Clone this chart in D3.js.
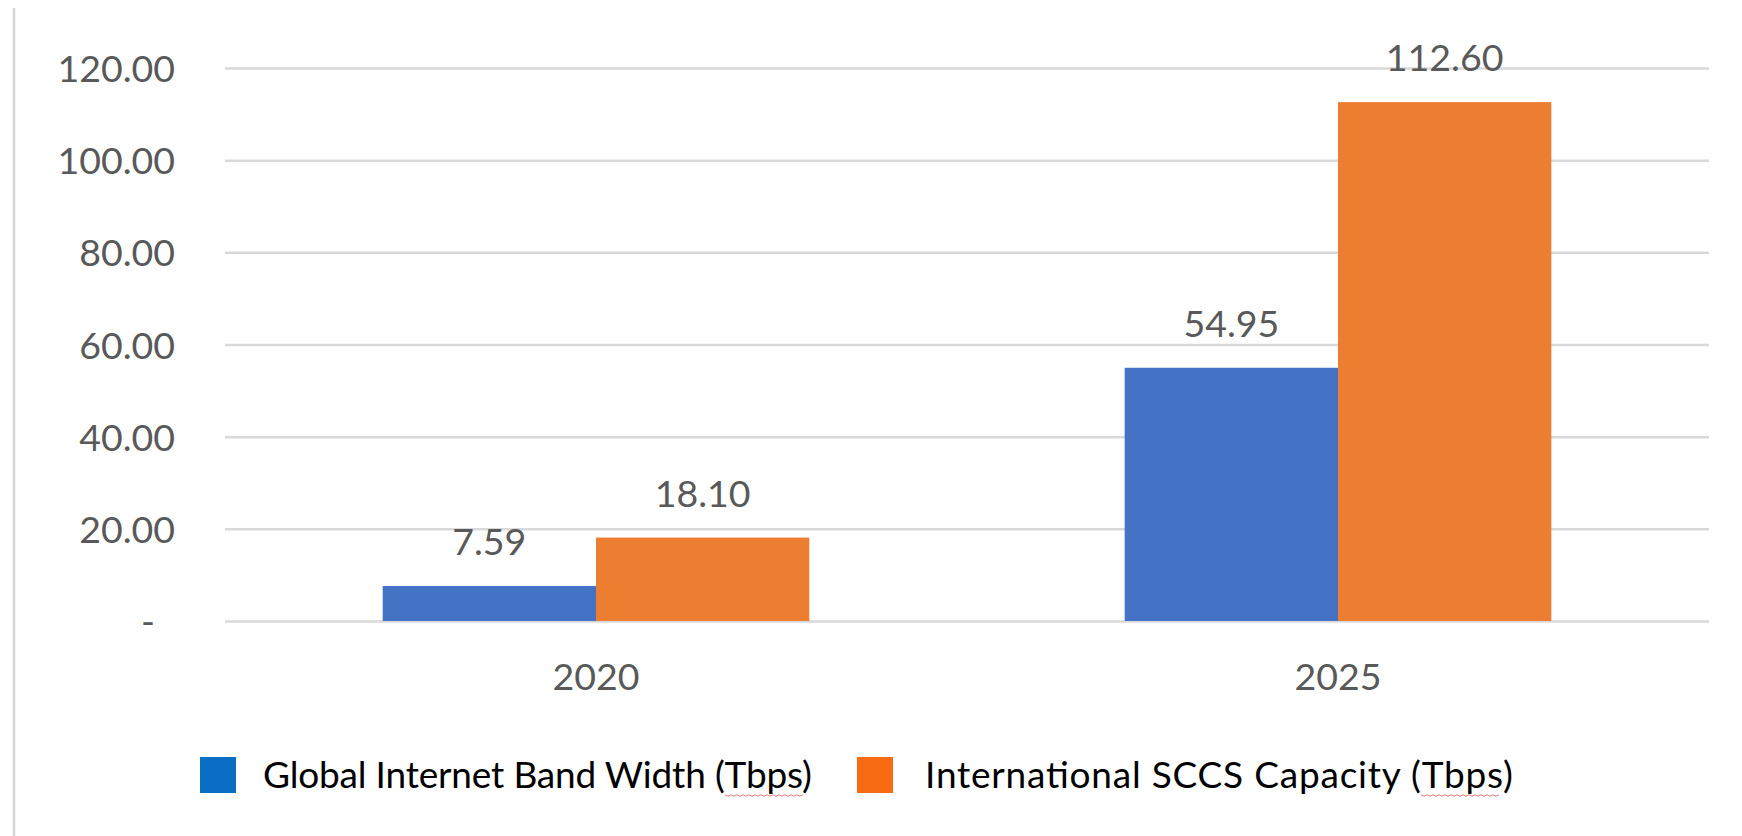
<!DOCTYPE html>
<html>
<head>
<meta charset="utf-8">
<script src="https://cdn.jsdelivr.net/npm/d3@7"></script>
<style>
  html, body { margin: 0; padding: 0; background: #ffffff; }
  svg { display: block; }
</style>
</head>
<body>
<svg id="chart" width="1742" height="836"></svg>
<script>
// ---- data ----
const categories = ["2020", "2025"];
const seriesNames = ["Global Internet Band Width (Tbps)", "International SCCS Capacity (Tbps)"];
const bandwidthValues = [7.59, 54.95];
const sccsValues = [18.10, 112.60];
const yTickValues = [0, 20, 40, 60, 80, 100, 120];
const yTickLabels = ["-", "20.00", "40.00", "60.00", "80.00", "100.00", "120.00"];

const barColors = ["#4472C4", "#ED7D31"];
const legendColors = ["#0A6EC4", "#F76B15"];

const table = categories.map((c, i) => ({
  category: c,
  values: [
    { series: seriesNames[0], value: bandwidthValues[i], idx: 0 },
    { series: seriesNames[1], value: sccsValues[i], idx: 1 }
  ]
}));

const svg = d3.select("#chart");
const W = 1742, H = 836;
const plot = { left: 225, right: 1709, top: 68, bottom: 621 };
const FONT = "Lato, 'Open Sans', sans-serif";
const LEG_FS = 37;
const legendTextWidths = [549, 588];
const legendTextOffsets = [63, 68];

// left border line
svg.append("line")
  .attr("x1", 14).attr("x2", 14).attr("y1", 8).attr("y2", H)
  .attr("stroke", "#d4d4d4").attr("stroke-width", 2.5);

const x0 = d3.scaleBand().domain(categories)
  .range([plot.left, plot.right])
  .paddingInner(0.425).paddingOuter(0.2125);
const x1 = d3.scaleBand().domain(seriesNames).range([0, x0.bandwidth()]).padding(0);
const y = d3.scaleLinear().domain([0, 120]).range([plot.bottom, plot.top]);

// gridlines
const grid = svg.append("g")
  .attr("transform", `translate(${plot.left},0)`)
  .call(d3.axisLeft(y).tickValues(yTickValues).tickSize(-(plot.right - plot.left)).tickFormat(""));
grid.select(".domain").remove();
grid.selectAll(".tick line").attr("stroke", "#d9d9d9").attr("stroke-width", 2.5);

// y axis labels
const yAxis = svg.append("g")
  .attr("transform", `translate(175,0)`)
  .call(d3.axisLeft(y).tickValues(yTickValues).tickSize(0).tickPadding(0)
    .tickFormat((d, i) => yTickLabels[i]));
yAxis.select(".domain").remove();
yAxis.selectAll(".tick text")
  .attr("font-family", FONT).attr("font-size", 37.5).attr("fill", "#595959")
  .attr("dy", "0.36em")
  .attr("dx", d => d === 0 ? -20 : 0);

// bars
const groups = svg.append("g").selectAll("g")
  .data(table).join("g")
  .attr("transform", d => `translate(${x0(d.category)},0)`);

groups.selectAll("rect")
  .data(d => d.values).join("rect")
  .attr("x", d => x1(d.series))
  .attr("width", x1.bandwidth())
  .attr("y", d => y(d.value))
  .attr("height", d => y(0) - y(d.value))
  .attr("fill", d => barColors[d.idx]);

// data labels
groups.selectAll("text.val")
  .data(d => d.values).join("text")
  .attr("class", "val")
  .attr("x", d => x1(d.series) + x1.bandwidth() / 2)
  .attr("y", d => y(d.value) - 31)
  .attr("text-anchor", "middle")
  .attr("font-family", FONT).attr("font-size", 37.5).attr("fill", "#595959")
  .text(d => d.value.toFixed(2));

// x axis labels
const xAxis = svg.append("g")
  .attr("transform", `translate(0,${plot.bottom})`)
  .call(d3.axisBottom(x0).tickSize(0).tickPadding(0));
xAxis.select(".domain").remove();
xAxis.selectAll(".tick text")
  .attr("font-family", FONT).attr("font-size", 37.5).attr("fill", "#595959")
  .attr("y", 69).attr("dy", 0);

// legend
const legend = svg.append("g");
let lx = 200;
function textW(str) {
  const t = legend.append("text").attr("font-family", FONT).attr("font-size", LEG_FS).text(str);
  const w = t.node().getComputedTextLength();
  t.remove();
  return w;
}
seriesNames.forEach((name, i) => {
  const off = legendTextOffsets[i];
  const target = legendTextWidths[i];
  legend.append("rect")
    .attr("x", lx).attr("y", 757).attr("width", 36).attr("height", 36)
    .attr("fill", legendColors[i]);
  legend.append("text")
    .attr("x", lx + off).attr("y", 788)
    .attr("font-family", FONT).attr("font-size", LEG_FS).attr("fill", "#000000")
    .attr("textLength", target).attr("lengthAdjust", "spacing")
    .text(name);
  const natural = textW(name);
  const k = target / natural;
  // squiggly spell-check underline under "Tbps"
  const preW = textW(name.slice(0, name.indexOf("Tbps"))) * k;
  const wW = textW("Tbps");
  const sx = lx + off + preW, ex = sx + wW;
  const pts = d3.range(sx, ex, 3).map((px, j) => [px, 795 + (j % 2 ? 1.2 : -0.2)]);
  legend.append("path")
    .attr("d", d3.line()(pts))
    .attr("fill", "none").attr("stroke", "#e07a7a").attr("stroke-width", 1);
  lx = lx + off + target + 45;
});
</script>
</body>
</html>
